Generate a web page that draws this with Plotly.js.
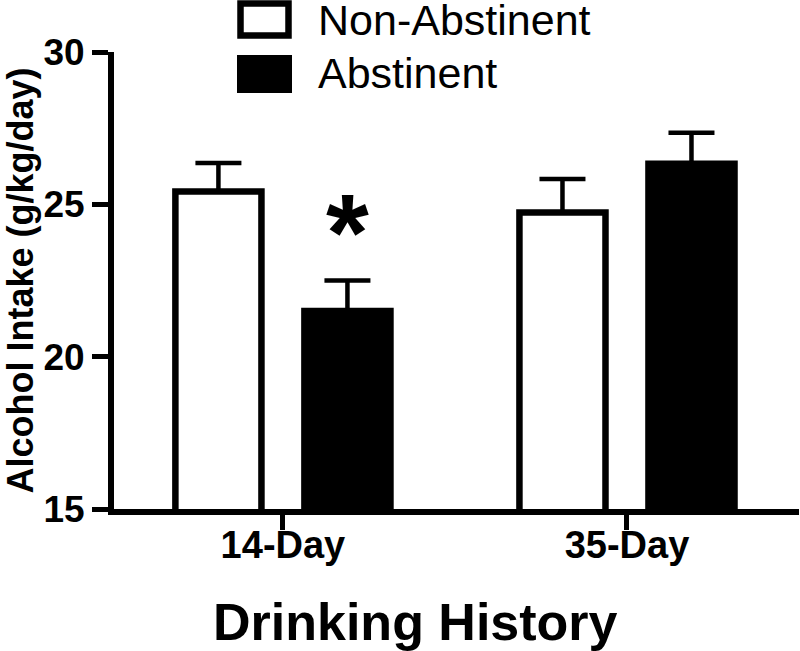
<!DOCTYPE html>
<html>
<head>
<meta charset="utf-8">
<script src="https://cdn.plot.ly/plotly-3.0.1.min.js"></script>
<style>html,body{margin:0;padding:0;background:#fff;}#chart{width:800px;height:651px;}</style>
</head>
<body>
<div id="chart"></div>
<script>
// ---- data ----
const categories = ["14-Day", "35-Day"];
const seriesNames = ["Non-Abstinent", "Abstinent"];
const nonAbstinent = [25.42, 24.73];
const nonAbstinentSEM = [0.94, 1.10];
const abstinent = [21.50, 26.33];
const abstinentSEM = [1.00, 1.02];
const yTicks = [15, 20, 25, 30];
const xTitle = "Drinking History";
const yTitle = "Alcohol Intake (g/kg/day)";
const significance = {category: "14-Day", label: "*", y: 24.10};

const FONT = "Liberation Sans, Arial, Helvetica, sans-serif";
const LW = 6.5;

const traces = [
  {
    type: "bar", name: seriesNames[0], x: categories, y: nonAbstinent,
    marker: {color: "#ffffff", line: {color: "#000000", width: LW}},
    error_y: {type: "data", array: nonAbstinentSEM, arrayminus: [0, 0], symmetric: false,
              color: "#000000", thickness: 4.5, width: 23}
  },
  {
    type: "bar", name: seriesNames[1], x: categories, y: abstinent,
    marker: {color: "#000000", line: {color: "#000000", width: LW}},
    error_y: {type: "data", array: abstinentSEM, arrayminus: [0, 0], symmetric: false,
              color: "#000000", thickness: 4.5, width: 23}
  }
];

// paper-coordinate helpers for the hand-drawn legend and x title
const L = 114, R = 799, T = 52, B = 509;
const px = v => (v - L) / (R - L);
const py = v => (B - v) / (B - T);

const layout = {
  width: 800, height: 651,
  margin: {l: L, r: 800 - R, t: T, b: 651 - B, pad: 0},
  paper_bgcolor: "#ffffff", plot_bgcolor: "#ffffff",
  barmode: "group", bargap: 0.25, bargroupgap: 0.333,
  showlegend: false,
  font: {family: FONT, color: "#000000"},
  xaxis: {
    type: "category", range: [-0.491, 1.5],
    showline: true, linecolor: "#000000", linewidth: 6,
    ticks: "outside", ticklen: 15, tickwidth: 5, tickcolor: "#000000",
    ticklabelstandoff: -18,
    showgrid: false, zeroline: false, fixedrange: true,
    tickfont: {family: FONT, size: 38, color: "#000000", weight: "bold"},
    automargin: false
  },
  yaxis: {
    range: [15, 30], tickvals: yTicks, ticktext: yTicks.map(String),
    showline: true, linecolor: "#000000", linewidth: 6,
    ticks: "outside", ticklen: 16, tickwidth: 5, tickcolor: "#000000",
    showgrid: false, zeroline: false, fixedrange: true,
    tickfont: {family: FONT, size: 37, color: "#000000", weight: "bold"},
    title: {text: yTitle, standoff: 7,
            font: {family: FONT, size: 36, color: "#000000", weight: "bold"}},
    automargin: false
  },
  shapes: [
    {type: "rect", xref: "paper", yref: "paper",
     x0: px(240.5), x1: px(288.5), y0: py(35.5), y1: py(3.5),
     fillcolor: "#ffffff", line: {color: "#000000", width: 6.5}},
    {type: "rect", xref: "paper", yref: "paper",
     x0: px(237), x1: px(292), y0: py(93), y1: py(55),
     fillcolor: "#000000", line: {color: "#000000", width: 0}}
  ],
  annotations: [
    {xref: "paper", yref: "paper", x: px(316), y: py(20.5), xanchor: "left", yanchor: "middle",
     text: seriesNames[0], showarrow: false, font: {family: FONT, size: 43, color: "#000000"}},
    {xref: "paper", yref: "paper", x: px(316), y: py(73), xanchor: "left", yanchor: "middle",
     text: seriesNames[1], showarrow: false, font: {family: FONT, size: 43, color: "#000000"}},
    {xref: "paper", yref: "paper", x: px(415.5), y: py(622), xanchor: "center", yanchor: "middle",
     text: "<b>" + xTitle + "</b>", showarrow: false,
     font: {family: FONT, size: 52, color: "#000000", weight: "bold"}},
    {xref: "x", yref: "y", x: significance.category, xshift: 65, y: significance.y,
     xanchor: "center", yanchor: "middle", text: significance.label, showarrow: false,
     font: {family: FONT, size: 110, color: "#000000", weight: "bold"}}
  ]
};

Plotly.newPlot("chart", traces, layout, {displayModeBar: false, staticPlot: true});
</script>
</body>
</html>
